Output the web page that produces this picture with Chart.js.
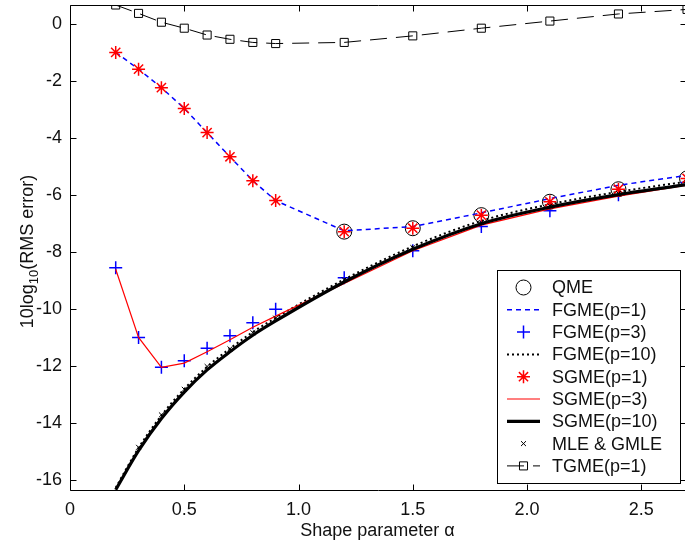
<!DOCTYPE html>
<html>
<head>
<meta charset="utf-8">
<script src="https://cdn.jsdelivr.net/npm/chart.js@4.4.0/dist/chart.umd.min.js"></script>
<style>
  html, body { margin: 0; padding: 0; background: #fff; overflow: hidden; }
  #rmsChart { display: block; }
</style>
</head>
<body>
<canvas id="rmsChart" width="687" height="550"></canvas>
<script>
// shape parameter values where every estimator was evaluated
const alpha = [0.2, 0.3, 0.4, 0.5, 0.6, 0.7, 0.8, 0.9, 1.2, 1.5, 1.8, 2.1, 2.4, 2.7];

// 10log10 of the RMS error for each estimator
const qme     = [null, null, null, null, null, null, null, null, -7.28, -7.16, -6.70, -6.23, -5.79, -5.41];
const fgmeP1  = [-0.98, -1.57, -2.22, -2.95, -3.80, -4.65, -5.49, -6.19, -7.25, -7.10, -6.62, -6.12, -5.65, -5.30];
const fgmeP3  = [-8.55, -11.00, -12.05, -11.82, -11.38, -10.94, -10.48, -10.01, -8.90, -7.95, -7.10, -6.55, -5.98, -5.55];
const fgmeP10 = [-16.28, -14.88, -13.74, -12.81, -12.03, -11.39, -10.81, -10.31, -8.96, -7.80, -6.90, -6.32, -5.88, -5.52];
const sgmeP1  = [-0.98, -1.57, -2.22, -2.95, -3.80, -4.65, -5.49, -6.19, -7.28, -7.16, -6.70, -6.23, -5.79, -5.41];
const sgmeP3  = [-8.60, -11.00, -12.05, -11.90, -11.50, -11.08, -10.64, -10.25, -9.10, -7.95, -7.05, -6.48, -6.03, -5.65];
const sgmeP10 = [-16.35, -14.98, -13.85, -12.92, -12.14, -11.50, -10.92, -10.42, -9.05, -7.90, -7.00, -6.42, -5.98, -5.63];
const mle     = [null, -14.86, -13.72, -12.82, -12.02, -11.40, -10.83, -10.32, -8.97, -7.84, -6.96, -6.38, -5.94, -5.58];
const tgmeP1  = [0.685, 0.39, 0.08, -0.13, -0.37, -0.52, -0.63, -0.67, -0.63, -0.40, -0.13, 0.12, 0.37, 0.53];

const xTicks = [0, 0.5, 1, 1.5, 2, 2.5];
const yTicks = [-16, -14, -12, -10, -8, -6, -4, -2, 0];
const xRange = [0, 2.7];
const yRange = [-16.36, 0.685];

const FONT = "'Liberation Sans', Arial, sans-serif";
const BLUE = '#0000ff', RED = '#ff0000', BLACK = '#000000';
const NONE = 'rgba(0,0,0,0)';

const pts = ys => alpha.map((a, i) => ({ x: a, y: ys[i] }));

const datasets = [
  { label: 'QME', data: pts(qme), showLine: false, borderColor: BLACK,
    pointStyle: 'circle', pointRadius: 7.5, pointBorderWidth: 1,
    pointBorderColor: BLACK, pointBackgroundColor: NONE },
  { label: 'FGME(p=1)', data: pts(fgmeP1), borderColor: BLUE, borderWidth: 1.5,
    borderDash: [5, 4], pointRadius: 0 },
  { label: 'FGME(p=3)', data: pts(fgmeP3), showLine: false, borderColor: BLUE,
    pointStyle: 'cross', pointRadius: 6.5, pointBorderWidth: 1.5,
    pointBorderColor: BLUE, pointBackgroundColor: NONE },
  { label: 'FGME(p=10)', data: pts(fgmeP10), borderColor: BLACK, borderWidth: 2,
    borderDash: [2, 3], pointRadius: 0, cubicInterpolationMode: 'monotone' },
  { label: 'SGME(p=1)', data: pts(sgmeP1), showLine: false, borderColor: RED,
    pointStyle: 'star', pointRadius: 6.5, pointBorderWidth: 1.5,
    pointBorderColor: RED, pointBackgroundColor: NONE },
  { label: 'SGME(p=3)', data: pts(sgmeP3), borderColor: RED, borderWidth: 1.2,
    pointRadius: 0 },
  { label: 'SGME(p=10)', data: pts(sgmeP10), borderColor: BLACK, borderWidth: 3.2,
    pointRadius: 0, cubicInterpolationMode: 'monotone' },
  { label: 'MLE & GMLE', data: pts(mle), showLine: false, borderColor: BLACK,
    pointStyle: 'crossRot', pointRadius: 3.5, pointBorderWidth: 1,
    pointBorderColor: BLACK, pointBackgroundColor: NONE },
  { label: 'TGME(p=1)', data: pts(tgmeP1), borderColor: BLACK, borderWidth: 1,
    borderDash: [17, 9], pointStyle: 'rect', pointRadius: 5.7, pointBorderWidth: 1,
    pointBorderColor: BLACK, pointBackgroundColor: NONE }
];
// later series are painted over earlier ones
datasets.forEach((d, i) => { d.order = datasets.length - i; });

// box with inward ticks, axis titles and the boxed legend
const framePlugin = {
  id: 'frame',
  afterDraw(chart) {
    const { ctx, chartArea: a, scales: { x, y } } = chart;
    const L = Math.round(a.left) + 0.5, R = Math.round(a.right) - 0.5;
    const T = Math.round(a.top) + 0.5, B = Math.round(a.bottom) + 0.5;
    ctx.save();
    ctx.strokeStyle = BLACK;
    ctx.lineWidth = 1;
    ctx.setLineDash([]);
    ctx.beginPath();
    ctx.moveTo(L, T); ctx.lineTo(R, T); ctx.lineTo(R, B); ctx.lineTo(L, B); ctx.closePath();
    xTicks.forEach(v => {
      const px = Math.round(x.getPixelForValue(v)) + 0.5;
      ctx.moveTo(px, B); ctx.lineTo(px, B - 6);
      ctx.moveTo(px, T); ctx.lineTo(px, T + 6);
    });
    yTicks.forEach(v => {
      const py = Math.round(y.getPixelForValue(v)) + 0.5;
      ctx.moveTo(L, py); ctx.lineTo(L + 6, py);
      ctx.moveTo(R, py); ctx.lineTo(R - 6, py);
    });
    ctx.stroke();

    // y axis title: 10log_10(RMS error)
    ctx.fillStyle = '#111';
    ctx.translate(32.5, (a.top + a.bottom) / 2 + 4);
    ctx.rotate(-Math.PI / 2);
    ctx.textBaseline = 'alphabetic';
    ctx.textAlign = 'left';
    const big = '18px ' + FONT, small = '13px ' + FONT;
    ctx.font = big;
    const w1 = ctx.measureText('10log').width, w3 = ctx.measureText('(RMS error)').width;
    ctx.font = small;
    const w2 = ctx.measureText('10').width;
    let sx = -(w1 + w2 + w3) / 2;
    ctx.font = big; ctx.fillText('10log', sx, 0); sx += w1;
    ctx.font = small; ctx.fillText('10', sx, 5); sx += w2;
    ctx.font = big; ctx.fillText('(RMS error)', sx, 0);
    ctx.setTransform(1, 0, 0, 1, 0, 0);

    // x axis title
    ctx.font = big;
    ctx.textAlign = 'center';
    ctx.textBaseline = 'middle';
    ctx.fillText('Shape parameter \u03b1', (a.left + a.right) / 2 - 1, 531);

    // legend
    const box = { left: 497.5, top: 270.5, right: 680.5, bottom: 483.5 };
    ctx.fillStyle = '#fff';
    ctx.fillRect(box.left, box.top, box.right - box.left, box.bottom - box.top);
    ctx.strokeStyle = BLACK;
    ctx.lineWidth = 1;
    ctx.strokeRect(box.left, box.top, box.right - box.left, box.bottom - box.top);
    chart.data.datasets.forEach((d, i) => {
      const cy = 287.5 + i * 22.3;
      if (d.showLine !== false) {
        ctx.strokeStyle = d.borderColor;
        ctx.lineWidth = d.borderWidth;
        ctx.setLineDash(d.borderDash || []);
        ctx.beginPath();
        ctx.moveTo(507, cy); ctx.lineTo(540, cy);
        ctx.stroke();
      }
      if (d.pointRadius > 0) {
        ctx.setLineDash([]);
        ctx.strokeStyle = d.pointBorderColor;
        ctx.fillStyle = d.pointBackgroundColor;
        ctx.lineWidth = d.pointBorderWidth;
        Chart.helpers.drawPoint(ctx, { pointStyle: d.pointStyle, radius: d.pointRadius,
          borderWidth: d.pointBorderWidth, rotation: 0 }, 523.5, cy);
      }
      ctx.fillStyle = '#111';
      ctx.font = big;
      ctx.textAlign = 'left';
      ctx.textBaseline = 'middle';
      ctx.fillText(d.label, 552, cy + 1);
    });
    ctx.restore();
  }
};

new Chart(document.getElementById('rmsChart'), {
  type: 'line',
  data: { datasets: datasets },
  options: {
    responsive: false,
    animation: false,
    events: [],
    layout: { autoPadding: false, padding: { top: 5, right: 0, bottom: 0, left: 0 } },
    plugins: {
      legend: { display: false },
      tooltip: { enabled: false }
    },
    scales: {
      x: {
        type: 'linear',
        min: xRange[0],
        max: xRange[1],
        grid: { display: false, drawTicks: false },
        border: { display: false },
        ticks: { color: '#111', font: { family: FONT, size: 18 }, padding: 9,
                 maxRotation: 0, autoSkip: false },
        afterBuildTicks: s => { s.ticks = xTicks.map(v => ({ value: v })); },
        afterFit: s => { s.height = 60; s.paddingLeft = 0; s.paddingRight = 0; }
      },
      y: {
        type: 'linear',
        min: yRange[0],
        max: yRange[1],
        grid: { display: false, drawTicks: false },
        border: { display: false },
        ticks: { color: '#111', font: { family: FONT, size: 18 }, padding: 8, autoSkip: false },
        afterBuildTicks: s => { s.ticks = yTicks.map(v => ({ value: v })); },
        afterFit: s => { s.width = 70; s.paddingTop = 0; s.paddingBottom = 0; }
      }
    }
  },
  plugins: [framePlugin]
});
</script>
</body>
</html>
